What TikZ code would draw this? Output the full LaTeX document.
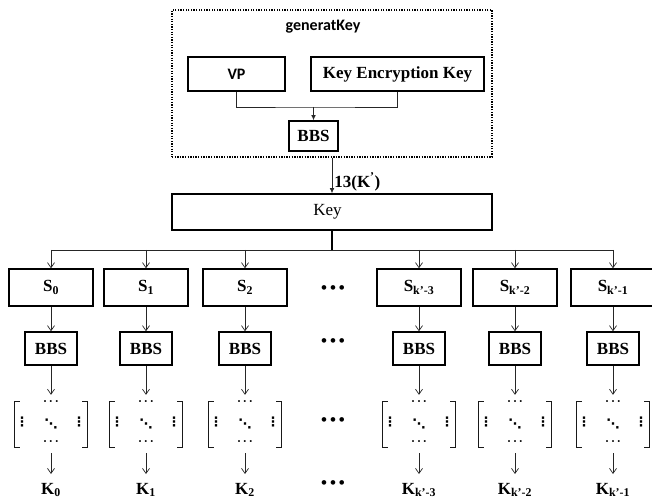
\documentclass[tikz,border=0pt]{standalone}
\usepackage{fontspec}
\setmainfont{Liberation Serif}
\newfontfamily\calfont{Carlito}
\newfontfamily\symfont{DejaVu Sans}
\usetikzlibrary{arrows.meta,calc}

\begin{document}
\begin{tikzpicture}[x=1pt,y=-1pt,
  blk/.style={draw, line width=1.5pt, inner sep=0pt, font=\fontsize{17}{20}\selectfont\bfseries},
  sbox/.style={blk, minimum width=84pt, minimum height=37pt},
  bbsbox/.style={blk, minimum width=52pt, minimum height=33pt},
  link/.style={line width=0.7pt, draw=black!85},
  arr/.style={link, -{Straight Barb[length=5pt,width=7pt]}},
  farr/.style={link, -{Latex[length=5pt,width=4.5pt]}},
  mat/.style={minimum width=72pt, minimum height=58pt, inner sep=0pt},
  brk/.style={line width=1.1pt, draw=black!90},
  mdots/.style={inner sep=0pt, font=\symfont\bfseries\fontsize{13}{15}\selectfont},
  hdots/.style={inner sep=0pt, font=\bfseries\fontsize{12}{14}\selectfont},
  klab/.style={anchor=north, inner sep=0pt, text height=20pt, font=\fontsize{17}{20}\selectfont\bfseries},
  gap/.style={font=\fontsize{17}{20}\selectfont\bfseries}
]
\useasboundingbox (0,0) rectangle (652,502);

% key generation group
\node[draw, line width=1.3pt, dash pattern=on 1.3pt off 1.3pt, minimum width=320pt, minimum height=147pt, inner sep=0pt] (gen) at (332,83.5) {};
\node[font=\calfont\bfseries\fontsize{16}{19}\selectfont] (title) at (323,27) {generatKey};
\node[blk, font=\calfont\bfseries\fontsize{16}{19}\selectfont, minimum width=97pt, minimum height=34pt] (vp) at (236.5,74) {VP};
\node[blk, minimum width=173pt, minimum height=34pt] (kek) at (397.5,74) {Key Encryption Key};
\node[blk, minimum width=49pt, minimum height=30pt] (bbs) at (313.5,136) {BBS};
\coordinate (join) at (313.5,107);
\draw[link] (vp.south) |- (join) -| (kek.south);
\draw[farr] (join) -- (bbs.north);

% master key
\node[draw, line width=1.5pt, minimum width=320pt, minimum height=36pt, inner sep=0pt, font=\fontsize{17}{20}\selectfont] (key) at (332,212) {\hspace*{-9pt}Key};
\draw[farr] (gen.south) -- (key.north) node[pos=0.68, anchor=west, inner sep=2pt, font=\fontsize{17}{20}\selectfont\bfseries] (cnt) {13(K\textsuperscript{’})};

\coordinate (bus) at (332,250);
\draw[line width=1.5pt] (key.south) -- (bus);

% columns: seed, generator, matrix, subkey
\foreach \i/\x/\lab in {0/51/0, 1/146/1, 2/245/2, 3/419/k’-3, 4/515/k’-2, 5/613/k’-1} {
  \node[sbox] (s\i) at (\x,287.5) {S\textsubscript{\lab}};
  \node[bbsbox] (b\i) at (\x,348.5) {BBS};
  \node[mat] (m\i) at (\x,424) {};
  \node[klab] (k\i) at (\x,474) {K\textsubscript{\lab}};
  \draw[brk] ($(m\i.north west)+(5,7)$) -- ++(-5,0) -- ++(0,46) -- ++(5,0);
  \draw[brk] ($(m\i.north east)+(-5,7)$) -- ++(5,0) -- ++(0,46) -- ++(-5,0);
  \node[hdots] (dt\i) at ($(m\i.center)+(0,-21)$) {·\hspace{1.8pt}·\hspace{1.8pt}·};
  \node[hdots] (db\i) at ($(m\i.center)+(0,19)$) {·\hspace{1.8pt}·\hspace{1.8pt}·};
  \node[mdots] (dl\i) at ($(m\i.center)+(-29,-2)$) {⋮};
  \node[mdots] (dr\i) at ($(m\i.center)+(28,-2)$) {⋮};
  \node[mdots] (dd\i) at ($(m\i.center)+(0,0)$) {⋱};
  \draw[arr] (bus -| s\i.north) -- (s\i.north);
  \draw[arr] (s\i) -- (b\i);
  \draw[arr] (b\i) -- (m\i);
  \draw[arr] (m\i) -- (k\i);
}
\draw[link] (bus -| s0.north) -- (bus -| s5.north);

% elided columns
\node[gap] (e1) at (333,290) {•\,•\,•};
\node[gap] (e2) at (333,343) {•\,•\,•};
\node[gap] (e3) at (333,422) {•\,•\,•};
\node[gap] (e4) at (333,485) {•\,•\,•};
\end{tikzpicture}
\end{document}
